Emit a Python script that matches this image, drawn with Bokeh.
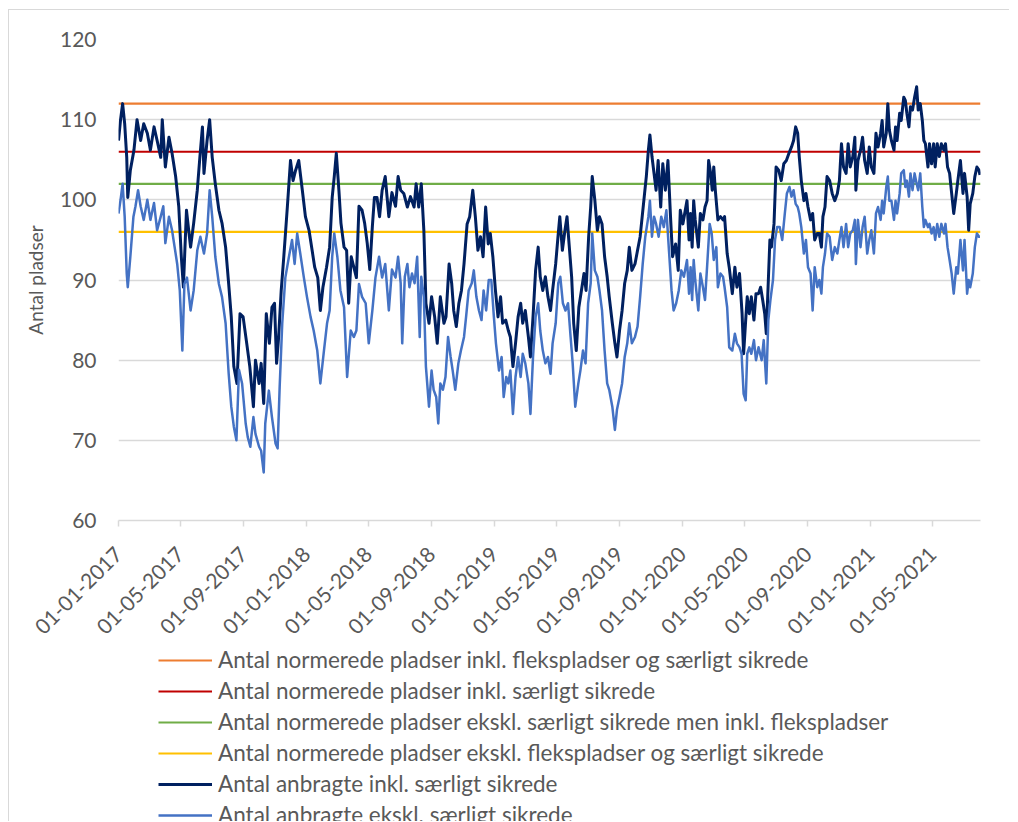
import calendar
from datetime import datetime, timedelta

from bokeh.plotting import figure
from bokeh.layouts import column
from bokeh.models import FixedTicker, DatetimeTickFormatter, Legend, LegendItem, Range1d
from bokeh.embed import file_html
from bokeh.resources import INLINE

# ---------------- data ----------------
START = datetime(2017, 1, 1)
END = datetime(2021, 8, 2)

tick_dates = ["2017-01-01", "2017-05-01", "2017-09-01", "2018-01-01", "2018-05-01",
              "2018-09-01", "2019-01-01", "2019-05-01", "2019-09-01", "2020-01-01",
              "2020-05-01", "2020-09-01", "2021-01-01", "2021-05-01"]
y_ticks = [60, 70, 80, 90, 100, 110, 120]

norm_labels = [
    "Antal normerede pladser inkl. flekspladser og særligt sikrede",
    "Antal normerede pladser inkl. særligt sikrede",
    "Antal normerede pladser ekskl. særligt sikrede men inkl. flekspladser",
    "Antal normerede pladser ekskl. flekspladser og særligt sikrede",
]
norm_values = [112, 106, 102, 96]

dark_label = "Antal anbragte inkl. særligt sikrede"
light_label = "Antal anbragte ekskl. særligt sikrede"

# days since 01-01-2017
dark_days = [0, 4, 8, 12, 16, 18, 23, 30, 36, 43, 49, 56, 62, 69, 75, 82, 85, 91, 98, 104,
             111, 117, 122, 126, 132, 137, 140, 146, 153, 158, 163, 166, 172, 177, 182, 188,
             195, 201, 208, 214, 219, 224, 230, 236, 242, 249, 255, 262, 266, 273, 277, 282,
             287, 293, 298, 303, 307, 311, 316, 321, 328, 334, 339, 344, 350, 357, 363, 370,
             376, 381, 387, 392, 397, 404, 410, 415, 419, 423, 428, 432, 438, 443, 447, 452,
             457, 462, 467, 473, 478, 483, 488, 493, 497, 502, 507, 512, 518, 525, 531, 538,
             543, 548, 554, 561, 567, 574, 578, 583, 588, 593, 597, 603, 608, 614, 619, 625,
             632, 636, 642, 647, 651, 656, 661, 666, 671, 677, 682, 688, 693, 698, 703, 708,
             713, 718, 722, 727, 732, 737, 742, 746, 752, 757, 761, 766, 771, 776, 781, 785,
             790, 796, 800, 805, 810, 815, 819, 824, 829, 834, 839, 843, 849, 854, 857, 862,
             867, 871, 875, 880, 884, 889, 894, 899, 904, 908, 913, 917, 920, 925, 930, 934,
             939, 944, 949, 953, 959, 964, 968, 973, 978, 983, 988, 992, 997, 1003, 1008, 1013,
             1017, 1021, 1025, 1029, 1032, 1036, 1040, 1044, 1048, 1053, 1057, 1062, 1067, 1072,
             1076, 1082, 1087, 1091, 1096, 1104, 1108, 1111, 1114, 1117, 1120, 1126, 1130, 1135,
             1139, 1143, 1146, 1150, 1153, 1156, 1159, 1164, 1169, 1174, 1177, 1182, 1186, 1192,
             1197, 1201, 1206, 1211, 1214, 1218, 1221, 1225, 1229, 1234, 1238, 1243, 1247, 1251,
             1255, 1258, 1262, 1265, 1268, 1273, 1277, 1282, 1287, 1292, 1297, 1302, 1307, 1311,
             1315, 1319, 1322, 1326, 1331, 1335, 1339, 1344, 1348, 1352, 1357, 1361, 1365, 1368,
             1372, 1376, 1381, 1386, 1391, 1396, 1400, 1404, 1408, 1413, 1417, 1421, 1426, 1430,
             1432, 1436, 1441, 1445, 1449, 1454, 1458, 1462, 1467, 1471, 1475, 1480, 1483, 1486,
             1491, 1494, 1497, 1501, 1506, 1509, 1512, 1517, 1520, 1525, 1528, 1531, 1535, 1538,
             1542, 1546, 1550, 1553, 1557, 1561, 1564, 1567, 1572, 1575, 1579, 1583, 1586, 1590,
             1594, 1598, 1603, 1606, 1610, 1614, 1618, 1622, 1627, 1630, 1635, 1640, 1643, 1648,
             1651, 1654, 1659, 1663, 1667, 1671, 1673]
dark_vals = [107.4, 110, 112, 109.5, 105.3, 100.3, 103.7, 106.2, 110, 107.4, 109.5, 108.3, 106.2,
             109.1, 107.4, 105.3, 110, 104.1, 107.8, 105.8, 102.9, 99.2, 92.9, 89.1, 98.7, 95.8,
             94.1, 97.1, 101.2, 105.3, 109.1, 103.3, 107.4, 110, 105.3, 102, 98.7, 97.1, 94.1,
             89.5, 85.4, 79.2, 77.1, 85.8, 85.4, 82.1, 79.2, 74.2, 80, 77.1, 79.6, 74.6, 85.8,
             82.1, 86.6, 87.1, 79.6, 82.9, 88.7, 92.9, 99.2, 104.9, 102.4, 103.7, 104.9, 101.2,
             97.9, 96.2, 93.7, 91.6, 90.3, 86.2, 89.1, 91.6, 94.1, 100.3, 102.9, 105.8, 101.2,
             97.1, 94.1, 93.7, 87.1, 92.9, 91.6, 90.3, 99.2, 98.7, 97.1, 94.6, 91.3, 96.7, 100.3,
             100.3, 97.9, 101.2, 102.9, 97.9, 100.9, 99.2, 102.9, 101.2, 100.8, 99.1, 100.4, 99.1,
             102.0, 99.1, 102.0, 96.2, 87.1, 84.6, 87.9, 85.4, 82.1, 87.9, 84.6, 85.4, 92.0, 89.6,
             86.2, 84.2, 87.1, 88.7, 92.0, 97.0, 97.9, 101.2, 97.9, 93.7, 95.4, 92.9, 99.1, 94.5,
             95.8, 92.9, 88.7, 85.4, 87.9, 84.6, 85.0, 83.7, 82.9, 79.2, 82.1, 85.4, 87.1, 84.6,
             86.2, 82.9, 80.4, 85.4, 91.2, 94.1, 90.4, 88.7, 90.4, 87.9, 86.2, 88.7, 92.0, 95.8,
             97.9, 93.7, 96.2, 97.9, 94.5, 90.4, 84.6, 81.2, 86.6, 88.7, 90.8, 88.7, 95.4, 99.1,
             102.9, 100.0, 96.2, 97.9, 97.0, 92.9, 90.4, 87.9, 84.6, 82.1, 80.4, 83.7, 86.2, 89.6,
             91.2, 94.1, 91.2, 92.0, 93.7, 95.4, 97.9, 100.4, 102.9, 106.2, 108.1, 105.4, 103.3,
             101.2, 104.9, 99.1, 104.5, 101.2, 104.9, 97.9, 92.9, 94.5, 91.2, 98.7, 97.0, 99.9,
             95.0, 98.3, 94.1, 99.9, 97.5, 94.1, 98.3, 97.5, 99.1, 99.9, 104.9, 103.3, 101.2,
             104.1, 101.2, 97.5, 97.9, 97.5, 97.9, 93.3, 91.6, 88.3, 91.6, 89.1, 90.8, 85.8, 80.8,
             85.0, 87.9, 85.8, 87.9, 85.0, 88.3, 88.3, 89.1, 87.5, 85.8, 83.3, 90.0, 95.0, 94.1,
             97.0, 104.1, 103.7, 102.4, 104.5, 104.9, 105.8, 106.6, 107.4, 109.1, 108.3, 105.4,
             102.4, 99.9, 100.8, 99.1, 97.5, 98.3, 95.0, 95.8, 95.8, 94.1, 97.9, 99.1, 102.9,
             102.4, 100.8, 99.9, 100.8, 102.4, 107.0, 104.1, 103.3, 107.0, 104.1, 105.4, 107.8,
             101.2, 104.9, 106.2, 107.8, 104.9, 103.3, 106.6, 104.1, 103.3, 108.3, 106.6, 108.3,
             109.9, 106.6, 108.3, 112.0, 108.7, 107.4, 106.2, 109.1, 107.4, 110.8, 109.9, 112.8,
             112.4, 110.8, 109.1, 111.6, 111.2, 112.8, 114.1, 111.2, 112.0, 109.9, 107.4, 107.0,
             104.1, 107.0, 104.5, 107.0, 104.1, 107.0, 105.4, 107.0, 106.2, 107.0, 104.1, 103.3,
             100.8, 98.3, 100.8, 102.4, 104.9, 100.8, 103.3, 100.4, 96.2, 99.5, 100.8, 102.9,
             104.1, 103.7, 103.1]

light_days = [0, 4, 8, 12, 16, 18, 23, 29, 33, 38, 43, 49, 56, 62, 69, 75, 82, 87, 91, 98,
              104, 109, 114, 119, 124, 128, 133, 140, 146, 153, 159, 166, 172, 177, 182, 188,
              195, 201, 208, 214, 219, 224, 229, 234, 240, 247, 251, 256, 262, 266, 273, 277,
              282, 285, 292, 298, 305, 309, 313, 318, 324, 331, 337, 342, 347, 353, 360, 366,
              373, 379, 386, 392, 399, 405, 410, 415, 419, 425, 431, 438, 444, 451, 457, 462,
              467, 473, 480, 486, 493, 499, 506, 512, 518, 525, 531, 538, 543, 548, 551, 556,
              561, 565, 570, 575, 580, 585, 588, 593, 597, 603, 608, 612, 617, 621, 625, 630,
              635, 640, 645, 649, 654, 660, 665, 671, 675, 680, 686, 690, 695, 700, 705, 709,
              714, 719, 724, 729, 733, 739, 744, 748, 753, 757, 761, 766, 771, 776, 781, 785,
              790, 796, 800, 805, 810, 815, 819, 824, 829, 834, 839, 843, 849, 854, 858, 863,
              868, 873, 878, 882, 887, 893, 897, 902, 907, 912, 917, 920, 925, 930, 934, 939,
              944, 949, 953, 959, 964, 968, 973, 978, 983, 988, 992, 997, 1003, 1008, 1013, 1018,
              1023, 1029, 1032, 1036, 1040, 1044, 1049, 1054, 1059, 1064, 1069, 1074, 1078, 1083,
              1088, 1093, 1098, 1104, 1108, 1111, 1114, 1117, 1120, 1126, 1130, 1135, 1139, 1143,
              1148, 1152, 1156, 1161, 1164, 1169, 1174, 1177, 1182, 1186, 1192, 1197, 1201, 1206,
              1210, 1214, 1218, 1221, 1225, 1229, 1234, 1238, 1243, 1249, 1253, 1258, 1262, 1266,
              1271, 1275, 1279, 1284, 1289, 1294, 1298, 1303, 1307, 1311, 1315, 1319, 1322, 1326,
              1331, 1335, 1339, 1344, 1348, 1352, 1357, 1361, 1365, 1368, 1372, 1376, 1381, 1386,
              1391, 1396, 1400, 1404, 1408, 1413, 1417, 1421, 1426, 1430, 1432, 1436, 1441, 1445,
              1449, 1454, 1458, 1462, 1467, 1471, 1475, 1480, 1483, 1486, 1491, 1494, 1497, 1501,
              1506, 1509, 1512, 1517, 1520, 1525, 1528, 1531, 1535, 1538, 1542, 1546, 1550, 1553,
              1557, 1561, 1564, 1567, 1572, 1575, 1579, 1583, 1586, 1590, 1594, 1598, 1603, 1606,
              1610, 1614, 1618, 1622, 1627, 1630, 1635, 1640, 1643, 1648, 1651, 1654, 1659, 1663,
              1667, 1671, 1673]
light_vals = [98.3, 100, 102, 97.9, 90.8, 89.1, 92.9, 97.9, 99.2, 101.2, 99.2, 97.5, 100, 97.5,
              99.6, 96.2, 97.9, 99.2, 94.6, 97.9, 96.2, 94.1, 92.0, 88.7, 81.2, 89.5, 90.3, 86.2,
              88.7, 93.7, 95.4, 93.3, 95.8, 101.2, 97.9, 92.9, 89.5, 87.9, 84.6, 78.3, 74.2, 71.7,
              70, 78.8, 77.1, 72.1, 70.4, 69.2, 72.9, 70.8, 69.2, 68.7, 66, 72.1, 76.2, 72.9, 69.6,
              69, 76.7, 84.6, 90.3, 92.9, 95, 92, 95.8, 93.3, 90.3, 87.9, 85.4, 83.7, 81.2, 77.1,
              81.2, 84.6, 86.2, 92.9, 95.8, 92.9, 88.7, 86.6, 77.9, 83.7, 82.9, 83.7, 89.5, 87.9,
              87.1, 82.1, 86.2, 90.3, 92.9, 90.3, 92, 86.2, 91.3, 90.3, 92.9, 89.6, 82.1, 90.4,
              92.0, 89.1, 90.8, 89.6, 92.9, 82.9, 90.4, 87.9, 79.2, 74.2, 78.7, 76.3, 75.4, 72.1,
              77.1, 76.3, 77.9, 82.9, 80.4, 78.7, 76.3, 79.6, 81.2, 82.9, 85.4, 88.7, 89.6, 91.2,
              87.9, 86.2, 85.0, 88.7, 86.2, 90.0, 90.0, 85.4, 82.1, 78.7, 80.4, 75.4, 77.9, 77.1,
              78.7, 73.3, 77.9, 80.4, 77.9, 80.8, 79.6, 77.1, 73.3, 80.4, 85.4, 87.1, 83.7, 81.2,
              79.6, 80.4, 78.3, 82.1, 84.6, 89.6, 90.4, 87.1, 86.2, 87.1, 82.9, 79.6, 74.2, 77.1,
              78.7, 81.2, 79.6, 87.1, 89.6, 95.8, 91.2, 90.4, 88.7, 86.2, 81.2, 77.1, 76.3, 74.2,
              71.3, 73.8, 75.4, 77.1, 80.4, 82.1, 84.6, 82.1, 82.9, 84.2, 87.9, 92.0, 95.4, 97.9,
              99.9, 95.4, 97.9, 97.0, 95.4, 97.9, 96.6, 98.7, 93.7, 88.7, 86.2, 87.1, 88.7, 91.2,
              90.4, 92.5, 88.3, 91.6, 87.5, 92.5, 90.0, 86.2, 90.8, 89.1, 87.5, 91.6, 97.0, 95.8,
              92.5, 94.1, 89.1, 90.8, 90.4, 89.1, 86.6, 81.6, 81.2, 83.3, 82.1, 81.6, 80.8, 75.8,
              75.0, 80.8, 81.6, 80.8, 82.5, 80.0, 81.6, 80.0, 82.5, 77.1, 85.0, 87.5, 90.0, 95.0,
              96.6, 96.6, 95.0, 98.3, 100.8, 101.6, 100.4, 101.2, 99.5, 99.1, 98.3, 96.6, 93.3,
              95.0, 91.6, 90.8, 86.2, 91.6, 89.1, 90.0, 88.3, 91.6, 93.3, 95.8, 95.4, 92.5, 94.1,
              93.3, 95.0, 96.6, 94.1, 97.0, 94.1, 95.8, 96.2, 97.5, 92.0, 97.5, 94.1, 96.6, 97.9,
              93.3, 95.0, 96.2, 93.3, 98.3, 99.1, 97.5, 99.9, 98.3, 101.6, 102.9, 99.9, 99.9,
              97.5, 99.9, 98.3, 100.8, 103.3, 103.7, 101.6, 102.4, 100.4, 103.3, 101.2, 103.3,
              102.0, 101.2, 103.3, 99.1, 96.6, 97.5, 96.6, 97.0, 95.8, 96.6, 95.0, 97.0, 95.4,
              97.0, 95.8, 97.0, 94.1, 92.5, 90.8, 88.3, 91.6, 90.8, 95.0, 91.2, 95.0, 88.3, 90.0,
              89.1, 90.8, 94.1, 95.8, 95.4, 95.4]

# ---------------- styling ----------------
NORM_COLORS = ["#ED7D31", "#C00000", "#70AD47", "#FFC000"]
DARK_COLOR = "#002060"
LIGHT_COLOR = "#4472C4"
TEXT_COLOR = "#595959"
GRID_COLOR = "#D9D9D9"
FONT = "Lato"


def ms(d):
    return calendar.timegm(d.timetuple()) * 1000.0


dark_x = [START + timedelta(days=d) for d in dark_days]
light_x = [START + timedelta(days=d) for d in light_days]

norm_styles = [dict(line_color=c, line_width=2.2) for c in NORM_COLORS]
dark_style = dict(line_color=DARK_COLOR, line_width=3, line_join="round")
light_style = dict(line_color=LIGHT_COLOR, line_width=2.5, line_join="round")


def draw_series(fig):
    rs = []
    for v, st in zip(norm_values, norm_styles):
        rs.append(fig.line([START, END], [v, v], **st))
    rs.append(fig.line(dark_x, dark_vals, **dark_style))
    rs.append(fig.line(light_x, light_vals, **light_style))
    return rs


# ---------------- chart ----------------
p = figure(width=1000, height=637, x_axis_type="datetime",
           x_range=Range1d(START, END), y_range=Range1d(60, 120),
           output_backend="svg", toolbar_location=None,
           min_border_left=109, min_border_right=29, min_border_top=29, min_border_bottom=127)
p.outline_line_color = None
p.background_fill_color = "white"
p.border_fill_color = "white"
draw_series(p)

p.xaxis.ticker = FixedTicker(ticks=[ms(datetime.strptime(t, "%Y-%m-%d")) for t in tick_dates])
fmt = "%d-%m-%Y"
p.xaxis.formatter = DatetimeTickFormatter(microseconds=fmt, milliseconds=fmt, seconds=fmt,
                                          minsec=fmt, minutes=fmt, hourmin=fmt, hours=fmt,
                                          days=fmt, months=fmt, years=fmt)
p.xaxis.major_label_orientation = 0.7853981634
p.xaxis.axis_line_color = GRID_COLOR
p.xaxis.axis_line_width = 1.5
p.xaxis.major_tick_line_color = GRID_COLOR
p.xaxis.major_tick_line_width = 1.5
p.xaxis.major_tick_out = 6
p.xaxis.major_tick_in = 0
p.xaxis.minor_tick_line_color = None
p.xaxis.major_label_standoff = 24

p.yaxis.ticker = FixedTicker(ticks=y_ticks)
p.yaxis.axis_line_color = None
p.yaxis.major_tick_line_color = None
p.yaxis.minor_tick_line_color = None
p.yaxis.major_tick_out = 0
p.yaxis.major_tick_in = 0
p.yaxis.major_label_standoff = 22
p.yaxis.axis_label = "Antal pladser"
p.yaxis.axis_label_standoff = 10
p.yaxis.axis_label_text_font = FONT
p.yaxis.axis_label_text_font_size = "19px"
p.yaxis.axis_label_text_font_style = "normal"
p.yaxis.axis_label_text_color = TEXT_COLOR

for ax in (p.xaxis, p.yaxis):
    ax.major_label_text_font = FONT
    ax.major_label_text_font_size = "21px"
    ax.major_label_text_color = TEXT_COLOR

p.xgrid.grid_line_color = None
p.ygrid.grid_line_color = GRID_COLOR
p.ygrid.grid_line_width = 1.5

# ---------------- legend strip (series kept out of its view; only the key shows) ----------------
lg = figure(width=1000, height=174, x_axis_type="datetime",
            x_range=p.x_range, y_range=Range1d(1000, 1001),
            output_backend="svg", toolbar_location=None,
            x_axis_location=None, y_axis_location=None,
            min_border_left=109, min_border_right=29, min_border_top=0, min_border_bottom=0)
lg.outline_line_color = None
lg.xgrid.grid_line_color = None
lg.ygrid.grid_line_color = None
lg.background_fill_color = "white"
lg.border_fill_color = "white"
key_renderers = draw_series(lg)

labels = norm_labels + [dark_label, light_label]
items = [LegendItem(label=lab, renderers=[r]) for lab, r in zip(labels, key_renderers)]

legend = Legend(items=items, location=(40, -7))
legend.border_line_color = None
legend.background_fill_alpha = 0
legend.padding = 0
legend.margin = 0
legend.spacing = 4
legend.glyph_width = 54
legend.glyph_height = 26
legend.label_height = 26
legend.label_standoff = 6
legend.label_text_font = FONT
legend.label_text_font_size = "22.5px"
legend.label_text_color = TEXT_COLOR
lg.add_layout(legend, "center")

layout = column(p, lg, spacing=0,
                styles={"margin-left": "8px", "margin-top": "9px",
                        "border-left": "1px solid #D9D9D9", "border-top": "1px solid #D9D9D9"})

open("out.html", "w").write(file_html(layout, INLINE))
